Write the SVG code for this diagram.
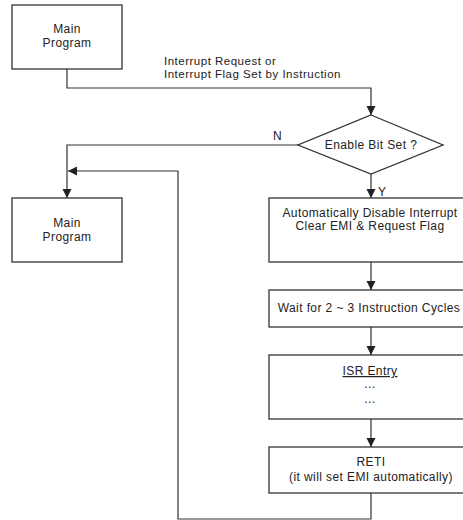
<svg xmlns="http://www.w3.org/2000/svg" width="463" height="520" viewBox="0 0 463 520">
<defs>
<style>
.box{fill:#fff;stroke:#333;stroke-width:1.3}
.ln{fill:none;stroke:#333;stroke-width:1.2}
text{font-family:"Liberation Sans",Arial,sans-serif;font-size:12px;letter-spacing:0.4px;fill:#222}
.lbl{font-size:11.5px;letter-spacing:0.5px}
.c{text-anchor:middle}
</style>
<marker id="ah" viewBox="0 0 10 10" refX="10" refY="5" markerWidth="9" markerHeight="10" markerUnits="userSpaceOnUse" orient="auto">
<path d="M0,0 L10,5 L0,10 Z" fill="#222"/>
</marker>
</defs>
<rect width="463" height="520" fill="#fff"/>
<g id="connectors">
<path class="ln" d="M67,69 V88 H371 V115" marker-end="url(#ah)"/>
<path class="ln" d="M298,145 H67 V198" marker-end="url(#ah)"/>
<path class="ln" d="M371,174 V198" marker-end="url(#ah)"/>
<path class="ln" d="M371,262 V290" marker-end="url(#ah)"/>
<path class="ln" d="M371,327 V355" marker-end="url(#ah)"/>
<path class="ln" d="M371,419 V447" marker-end="url(#ah)"/>
<path class="ln" d="M371,493 V519 H178 V171 H68" marker-end="url(#ah)"/>
<text class="lbl" x="164" y="65">Interrupt Request or</text>
<text class="lbl" x="164" y="78">Interrupt Flag Set by Instruction</text>
<text x="273" y="140">N</text>
<text x="378" y="196">Y</text>
</g>
<g id="main1">
<rect class="box" x="12" y="5" width="110" height="64"/>
<text class="c" x="67" y="33">Main</text>
<text class="c" x="67" y="47">Program</text>
</g>
<g id="decision">
<path class="box" d="M371,115 L443,145 L371,174 L298,145 Z"/>
<text class="c" x="371" y="149">Enable Bit Set ?</text>
</g>
<g id="main2">
<rect class="box" x="12" y="198" width="110" height="64"/>
<text class="c" x="67" y="227">Main</text>
<text class="c" x="67" y="241">Program</text>
</g>
<g id="disable">
<rect class="box" x="269" y="198" width="204" height="64"/>
<text class="c" x="370" y="217">Automatically Disable Interrupt</text>
<text class="c" x="370" y="230">Clear EMI &amp; Request Flag</text>
</g>
<g id="wait">
<rect class="box" x="269" y="290" width="204" height="37"/>
<text class="c" x="369" y="312">Wait for 2 ~ 3 Instruction Cycles</text>
</g>
<g id="isr">
<rect class="box" x="269" y="355" width="204" height="64"/>
<text class="c" x="370" y="375" text-decoration="underline">ISR Entry</text>
<text class="c" x="370" y="388">…</text>
<text class="c" x="370" y="403">…</text>
</g>
<g id="reti">
<rect class="box" x="269" y="447" width="204" height="46"/>
<text class="c" x="371" y="466">RETI</text>
<text class="c" x="371" y="481">(it will set EMI automatically)</text>
</g>
</svg>
